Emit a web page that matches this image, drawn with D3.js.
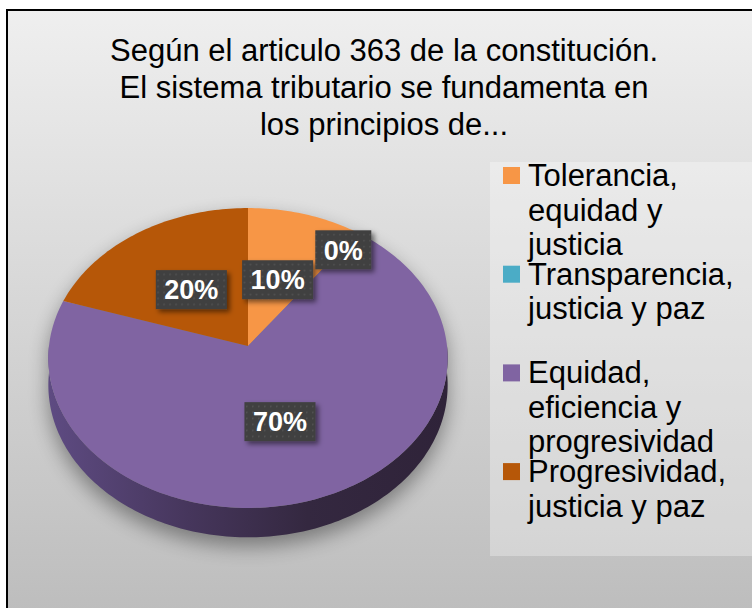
<!DOCTYPE html>
<html>
<head>
<meta charset="utf-8">
<script src="https://cdn.jsdelivr.net/npm/d3@7"></script>
<style>
    body { margin: 0; background: #fff; }
    svg { display: block; font-family: Arial, "Liberation Sans", sans-serif; }
</style>
</head>
<body>
<svg width="752" height="608"></svg>
<script>
const titleLines = [
    'Según el articulo 363 de la constitución.',
    'El sistema tributario se fundamenta en',
    'los principios de...'
];
const categories = [
    'Tolerancia, equidad y justicia',
    'Transparencia, justicia y paz',
    'Equidad, eficiencia y progresividad',
    'Progresividad, justicia y paz'
];
const values = [10, 0, 70, 20];
const colors = ['#f79646', '#4bacc6', '#8064a2', '#b65708'];

const svg = d3.select('svg');
const defs = svg.append('defs');

// background
const bg = defs.append('linearGradient')
    .attr('id', 'bg')
    .attr('x1', 0).attr('y1', 0).attr('x2', 0).attr('y2', 1);
bg.append('stop').attr('offset', '0%').attr('stop-color', '#efefef');
bg.append('stop').attr('offset', '100%').attr('stop-color', '#b9b9b9');

svg.append('rect')
    .attr('x', 7)
    .attr('y', 10)
    .attr('width', 800)
    .attr('height', 650)
    .attr('fill', 'url(#bg)')
    .attr('stroke', '#000')
    .attr('stroke-width', 2);

// title
svg.append('g')
    .selectAll('text')
    .data(titleLines)
    .enter()
    .append('text')
    .attr('x', 384)
    .attr('y', (d, i) => 60.5 + i * 37)
    .attr('text-anchor', 'middle')
    .attr('font-size', 31)
    .attr('fill', '#000')
    .text((d) => d);

// 3d pie projection
const cx = 248, cy = 346, rx = 199, ry = 149, persp = 0.08, depth = 27;

function project(angle, r = 1, dy = 0) {
    const X = Math.sin(angle) * r;
    const Z = Math.cos(angle) * r;
    const s = 1 / (1 + persp * Z);
    return [cx + rx * X * s, cy - ry * Z * s + dy * s];
}

function arcPoints(a0, a1, dy) {
    const n = Math.max(2, Math.ceil((a1 - a0) / 0.02));
    return d3.range(n + 1).map((i) => project(a0 + (a1 - a0) * i / n, 1, dy));
}

const line = d3.line();
const arcs = d3.pie().sort(null).value((d) => d)(values);
const total = d3.sum(values);

// side gradient
const sideGrad = defs.append('linearGradient')
    .attr('id', 'side')
    .attr('gradientUnits', 'userSpaceOnUse')
    .attr('x1', cx - rx).attr('y1', 0)
    .attr('x2', cx + rx).attr('y2', 0);
sideGrad.append('stop').attr('offset', '0%').attr('stop-color', '#5e4b82');
sideGrad.append('stop').attr('offset', '35%').attr('stop-color', '#46365c');
sideGrad.append('stop').attr('offset', '65%').attr('stop-color', '#342840');
sideGrad.append('stop').attr('offset', '100%').attr('stop-color', '#2f2339');

// shadow under the pie
defs.append('filter')
    .attr('id', 'blur')
    .attr('x', '-30%').attr('y', '-30%').attr('width', '160%').attr('height', '160%')
    .append('feGaussianBlur')
    .attr('stdDeviation', 10);

const outline = arcPoints(-Math.PI / 2, Math.PI / 2, 0)
    .concat(arcPoints(Math.PI / 2, 3 * Math.PI / 2, depth));
svg.append('path')
    .attr('d', line(outline) + 'Z')
    .attr('transform', 'translate(0, 9)')
    .attr('fill', '#000')
    .attr('opacity', 0.38)
    .attr('filter', 'url(#blur)');

// sides
const front0 = Math.PI / 2, front1 = 3 * Math.PI / 2;
svg.append('g')
    .selectAll('path')
    .data(arcs.filter((a) => Math.min(a.endAngle, front1) > Math.max(a.startAngle, front0)))
    .enter()
    .append('path')
    .attr('d', (a) => {
        const lo = Math.max(a.startAngle, front0);
        const hi = Math.min(a.endAngle, front1);
        const pts = arcPoints(lo, hi, 0).concat(arcPoints(lo, hi, depth).reverse());
        return line(pts) + 'Z';
    })
    .attr('fill', (a) => a.index === 2 ? 'url(#side)' : d3.color(colors[a.index]).darker(1.3));

// tops
svg.append('g')
    .selectAll('path')
    .data(arcs.filter((a) => a.value > 0))
    .enter()
    .append('path')
    .attr('d', (a) => line([project(0, 0)].concat(arcPoints(a.startAngle, a.endAngle, 0))) + 'Z')
    .attr('fill', (a) => colors[a.index]);

// data labels
const pat = defs.append('pattern')
    .attr('id', 'dots')
    .attr('patternUnits', 'userSpaceOnUse')
    .attr('width', 6).attr('height', 6);
pat.append('rect').attr('width', 6).attr('height', 6).attr('fill', '#404040');
pat.append('rect').attr('x', 2).attr('y', 2).attr('width', 1.5).attr('height', 1.5).attr('fill', '#555555');

const ds = defs.append('filter')
    .attr('id', 'dropshadow')
    .attr('x', '-30%').attr('y', '-30%').attr('width', '160%').attr('height', '160%');
ds.append('feDropShadow')
    .attr('dx', 3).attr('dy', 3)
    .attr('stdDeviation', 2.5)
    .attr('flood-color', '#000')
    .attr('flood-opacity', 0.5);

const fmt = d3.format('.0%');
const labels = svg.append('g')
    .selectAll('g')
    .data(arcs)
    .enter()
    .append('g')
    .attr('transform', (a) => {
        const mid = (a.startAngle + a.endAngle) / 2;
        const p = project(mid, a.value === 0 ? 0.86 : 0.5);
        return `translate(${p[0]}, ${p[1] + 2})`;
    });

labels.append('rect')
    .attr('class', 'box')
    .attr('fill', 'url(#dots)')
    .attr('filter', 'url(#dropshadow)');

labels.append('text')
    .attr('text-anchor', 'middle')
    .attr('dy', '0.36em')
    .attr('font-size', 27)
    .attr('font-weight', 'bold')
    .attr('fill', '#fff')
    .text((a) => fmt(a.value / total));

labels.each(function () {
    const g = d3.select(this);
    const w = g.select('text').node().getComputedTextLength() + 17;
    g.select('rect')
        .attr('x', -w / 2)
        .attr('y', -19.5)
        .attr('width', w)
        .attr('height', 39);
});

// legend
svg.append('rect')
    .attr('x', 490)
    .attr('y', 162)
    .attr('width', 262)
    .attr('height', 394)
    .attr('fill', '#fff')
    .attr('opacity', 0.3);

const legend = svg.append('g')
    .selectAll('g')
    .data(categories)
    .enter()
    .append('g')
    .attr('transform', (d, i) => `translate(503, ${186 + i * 98.7})`);

legend.append('rect')
    .attr('x', 0)
    .attr('y', -19)
    .attr('width', 17)
    .attr('height', 17)
    .attr('fill', (d, i) => colors[i]);

legend.each(function (d) {
    const text = d3.select(this).append('text')
        .attr('x', 25)
        .attr('font-size', 31)
        .attr('fill', '#000');
    const words = d.split(' ');
    let lineNo = 0;
    let current = [];
    let tspan = text.append('tspan').attr('x', 25).attr('y', 0);
    words.forEach((w) => {
        current.push(w);
        tspan.text(current.join(' '));
        if (tspan.node().getComputedTextLength() > 222 && current.length > 1) {
            current.pop();
            tspan.text(current.join(' '));
            current = [w];
            lineNo += 1;
            tspan = text.append('tspan').attr('x', 25).attr('y', lineNo * 34.5).text(w);
        }
    });
});
</script>
</body>
</html>
